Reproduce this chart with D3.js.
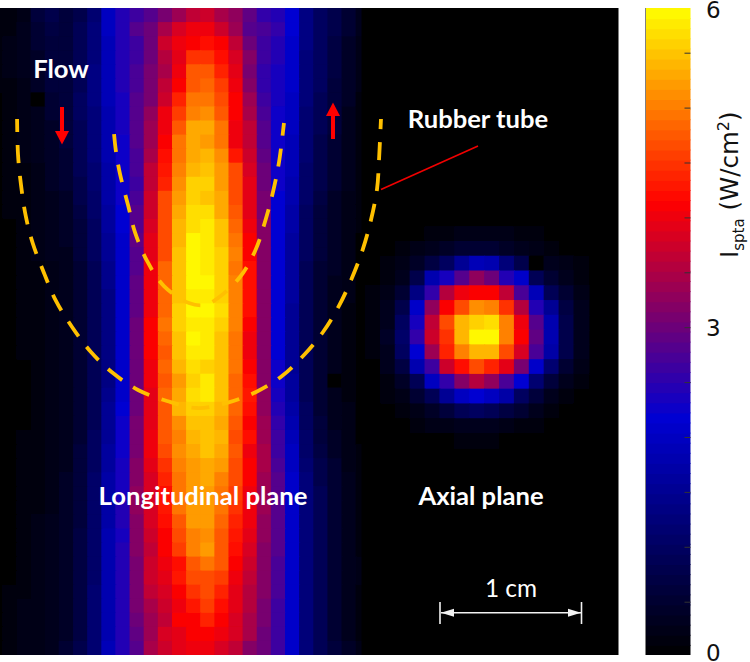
<!DOCTYPE html>
<html>
<head>
<meta charset="utf-8">
<script src="https://cdn.jsdelivr.net/npm/d3@7"></script>
<style>
html, body { margin: 0; padding: 0; background: #fff; }
svg { display: block; }
</style>
</head>
<body>
<div id="chart"></div>
<script>
// colormap of the scale bar, W/cm2
var stopValues = [0, 2.2, 4.2, 6];
var stopColors = ['#000000', '#0000d2', '#ff0000', '#ffff00'];
var barTicks = [0.5, 1, 1.5, 2, 2.5, 3, 3.5, 4, 4.5, 5, 5.5];
var barLabels = [0, 3, 6];

var longitudinal = [
[.12,.15,.25,.65,.75,.6,.8,1.2,2.0,2.45,2.67,2.9,3.1,3.4,3.7,3.8,3.55,3.3,2.98,2.6,2.5,2.2,1.4,1.0,.75,.5,.3],
[.12,.18,.3,.55,.7,.65,.85,1.25,2.05,2.45,2.85,3.0,3.5,3.85,4.1,4.1,3.8,3.4,2.9,2.75,2.55,2.2,1.35,1.0,.75,.5,.3],
[.1,.2,.3,.5,.65,.65,.85,1.3,1.95,2.45,2.65,3.0,3.8,4.05,4.2,4.3,4.15,3.7,3.0,2.65,2.5,2.15,1.35,1.0,.7,.45,.25],
[.1,.2,.3,.45,.6,.65,.9,1.3,1.95,2.5,2.7,3.05,3.6,4.0,4.5,4.55,4.27,3.85,3.2,2.7,2.45,2.15,1.3,.95,.7,.45,.25],
[.1,.2,.3,.45,.6,.65,.9,1.35,1.9,2.5,2.75,3.1,3.55,4.08,4.84,4.84,4.48,3.95,3.1,2.6,2.4,2.1,1.3,.95,.7,.4,.2],
[.1,.15,.25,.4,.6,.65,.9,1.35,1.9,2.45,2.8,3.1,3.7,4.2,4.84,4.9,4.62,4.05,3.2,2.55,2.4,2.1,1.25,.95,.65,.4,.2],
[.08,.15,.25,0,.55,.65,.95,1.4,1.9,2.4,2.85,3.15,3.8,4.48,5.05,5.05,4.69,4.2,3.45,2.65,2.35,2.05,1.25,.9,.65,.4,.15],
[.08,.15,.2,.35,.5,.65,.95,1.3,1.85,2.35,2.85,3.3,4.05,4.62,5.12,5.22,4.84,4.2,3.5,2.75,2.3,2.0,1.2,.85,.6,.35,.15],
[.08,.12,.2,.3,.45,.6,.9,1.3,1.8,2.35,2.9,3.4,4.1,4.84,5.35,5.35,5.0,4.1,3.7,2.85,2.3,2.0,1.2,.85,.6,.35,.15],
[.08,.12,.2,.3,.45,.6,.9,1.25,1.8,2.3,2.85,3.45,4.2,5.0,5.4,5.3,5.0,4.08,3.7,2.9,2.3,1.95,1.15,.8,.55,.3,.15],
[.06,.12,.2,.3,.4,.55,.85,1.25,1.8,2.3,2.8,3.55,4.27,5.05,5.4,5.5,5.2,4.35,3.75,2.95,2.25,1.95,1.15,.8,.55,.3,.12],
[.06,.1,.18,.25,.4,.5,.85,1.2,1.75,2.3,2.75,3.7,4.4,5.12,5.5,5.55,5.25,4.69,3.9,3.05,2.25,1.9,1.1,.75,.5,.3,.12],
[.06,.1,.15,.25,.4,.5,.8,1.15,1.75,2.25,2.7,3.7,4.48,5.2,5.7,5.65,5.3,4.69,3.95,3.05,2.25,1.85,1.1,.75,.5,.3,.12],
[.05,.1,.15,.25,.35,.45,.75,1.1,1.7,2.25,2.75,3.75,4.69,5.26,5.7,5.6,5.35,4.76,3.95,3.1,2.2,1.8,1.05,.7,.45,.25,.1],
[.05,.1,.15,.2,.35,.45,.7,1.05,1.65,2.2,2.85,3.8,4.76,5.35,5.8,5.8,5.4,4.84,4.0,3.15,2.2,1.75,1.0,.65,.45,.25,.1],
[.05,.08,.15,.2,.3,.4,.65,1.0,1.6,2.2,2.9,3.85,4.76,5.45,5.8,5.9,5.55,4.9,4.1,3.2,2.2,1.7,1.0,.65,.4,.22,.1],
[.05,.08,.12,.2,.3,.4,.6,.95,1.55,2.15,2.95,3.95,4.76,5.5,5.95,5.9,5.6,5.05,4.2,3.2,2.2,1.65,.95,.6,.4,.22,.08],
[.05,.08,.12,.2,.3,.35,.6,.95,1.5,2.15,2.9,4.0,4.69,5.55,5.95,5.9,5.68,5.08,4.2,3.2,2.2,1.65,.95,.6,.38,.2,.08],
[.04,.08,.12,.18,.28,.35,.55,.9,1.45,2.1,2.9,4.08,4.9,5.6,5.96,5.9,5.65,5.05,4.3,3.2,2.2,1.6,.9,.55,.38,.2,.08],
[.04,.08,.12,.18,.28,.35,.55,.9,1.45,2.1,2.95,4.1,4.9,5.55,5.96,6.0,5.68,5.08,4.3,3.25,2.2,1.6,.9,.55,.35,.2,.08],
[.04,.06,.12,.18,.25,.35,.55,.9,1.4,2.1,2.95,4.1,4.9,5.62,5.9,5.9,5.7,5.08,4.27,3.25,2.2,1.6,.9,.55,.35,.2,.06],
[.04,.06,.1,.18,.25,.35,.55,.88,1.4,2.1,2.95,4.12,4.91,5.65,5.96,6.0,5.75,5.12,4.27,3.2,2.2,1.55,.88,.55,.35,.18,.06],
[.04,.06,.1,.18,.25,.33,.52,.88,1.4,2.1,3.0,4.15,4.98,5.65,5.9,5.9,5.65,5.12,4.2,3.2,2.2,1.55,.88,.52,.33,.18,.05],
[.04,.06,.1,.15,.22,.33,.52,.88,1.38,2.1,3.0,4.2,4.91,5.54,5.93,5.9,5.6,5.05,4.1,3.2,2.2,1.55,.88,.52,.33,.15,.05],
[.04,.06,.1,.15,.22,.33,.5,.85,1.4,2.1,3.0,4.15,4.84,5.54,5.85,5.9,5.56,4.98,4.08,3.2,2.2,1.55,.85,.5,.3,.15,.05],
[.04,.06,.08,.15,.22,.3,.5,.85,1.4,2.1,3.0,4.12,4.91,5.45,5.75,5.65,5.54,4.98,4.16,3.2,2.25,1.55,.85,.5,.3,.15,.05],
[.03,.05,.08,.15,.2,.3,.5,.85,1.4,2.1,3.0,4.08,4.84,5.33,5.68,5.82,5.54,4.93,4.3,3.25,2.3,1.6,.85,.5,0,.12,.05],
[.03,.05,.08,.15,.2,.3,.5,.85,1.45,2.15,3.0,4.0,4.91,5.4,5.72,5.82,5.54,4.93,4.4,3.3,2.4,1.65,.9,.5,.3,.15,.05],
[.03,.05,.08,.15,.2,.33,.5,.85,1.5,2.2,3.05,3.95,4.8,5.45,5.68,5.68,5.45,4.91,4.27,3.35,2.5,1.7,.95,.55,.33,.2,.05],
[.03,.05,.08,.15,.22,.33,.55,.9,1.5,2.25,3.1,4.0,4.8,5.19,5.61,5.57,5.4,4.8,4.2,3.4,2.6,1.8,1.0,.6,.35,.2,.08],
[.03,.06,.1,.15,.22,.35,.55,.95,1.55,2.3,3.1,4.08,4.8,5.12,5.45,5.57,5.45,4.73,4.27,3.45,2.65,1.9,1.05,.65,.4,.22,.08],
[.03,.06,.1,.15,.25,.35,.6,1.0,1.6,2.3,3.15,4.08,4.69,5.19,5.4,5.54,5.35,4.84,4.08,3.5,2.7,2.0,1.1,.7,.45,.22,.1],
[.03,.06,.1,.15,.25,.35,.6,1.0,1.65,2.35,3.2,4.0,4.55,5.08,5.33,5.4,5.26,4.73,4.2,3.5,2.75,2.05,1.15,.75,.5,.25,.1],
[.03,.06,.1,.18,.25,.4,.6,1.05,1.7,2.4,3.25,3.9,4.48,5.05,5.33,5.4,5.12,4.69,4.16,3.45,2.85,2.1,1.25,.8,.5,.3,.1],
[.03,.06,.12,.18,.28,.4,.65,1.05,1.75,2.4,3.3,3.9,4.31,5.0,5.3,5.3,5.05,4.62,4.08,3.4,2.9,2.15,1.3,.85,.55,.35,.15],
[.03,.06,.12,.18,.28,.4,.65,1.1,1.75,2.45,3.3,3.85,4.34,4.98,5.26,5.33,4.98,4.58,4.08,3.4,2.9,2.15,1.3,.85,.55,.35,.15],
[.03,.08,.12,.2,.3,.42,.65,1.1,1.75,2.45,3.25,3.85,4.27,4.8,5.3,5.3,4.91,4.48,4.08,3.35,2.9,2.15,1.3,.85,.55,.35,.18],
[.03,.08,.15,.2,.3,.42,.7,1.1,1.8,2.4,3.2,3.8,4.2,4.69,5.12,5.22,4.84,4.34,4.0,3.3,2.85,2.15,1.25,.85,.55,.35,.18],
[.04,.08,.15,.2,.3,.45,.7,1.1,1.8,2.45,3.2,3.7,4.2,4.62,5.12,5.26,4.84,4.27,3.93,3.25,2.85,2.15,1.25,.85,.55,.35,.18],
[.04,.08,.15,.22,.32,.45,.7,1.1,1.8,2.45,3.15,3.77,4.08,4.27,4.84,4.98,4.8,4.2,3.77,3.25,2.8,2.1,1.25,.85,.5,.32,.2],
[.04,.08,.15,.22,.32,.45,.7,1.1,1.8,2.45,3.15,3.77,4.0,4.34,4.69,4.76,4.62,4.05,3.7,3.2,2.8,2.1,1.25,.85,.5,.32,.2],
[.05,.1,.18,.22,.35,.45,.7,1.15,1.85,2.45,3.15,3.7,3.9,4.2,4.55,4.69,4.48,3.95,3.65,3.2,2.75,2.1,1.25,.85,.5,.3,.18],
[.05,.1,.2,.22,.35,.45,.7,1.15,1.85,2.45,3.1,3.53,3.77,4.12,4.34,4.62,4.3,4.0,3.6,3.15,2.7,2.1,1.3,.9,.5,.3,.15],
[.05,.1,.2,.22,.35,.45,.7,1.15,1.85,2.45,3.05,3.45,3.73,4.16,4.2,4.48,4.2,3.85,3.53,3.1,2.7,2.1,1.3,.9,.55,.3,.15],
[.05,.1,.2,.25,.35,.45,.7,1.15,1.85,2.45,2.95,3.4,3.9,4.0,4.2,4.2,4.12,3.85,3.53,3.05,2.7,2.1,1.3,.9,.55,.35,.18],
[.05,.1,.2,.25,.35,.48,.75,1.15,1.9,2.45,2.9,3.5,3.77,4.0,4.08,4.08,3.9,3.7,3.25,3.0,2.65,2.1,1.3,.9,.6,.4,.2]
];

var axial = [
[0,0,0,0,.1,.15,.2,.25,.25,.2,.15,.1,.05,0,0],
[0,0,.1,.2,.3,.4,.5,.55,.55,.4,.35,.2,.15,.05,0],
[.05,.1,.2,.4,.7,1.0,1.5,1.9,1.8,1.3,.8,0,.3,.2,.1],
[.05,.15,.35,.8,1.8,2.35,2.9,3.3,3.05,2.45,2.1,.9,.55,.3,.15],
[.1,.2,.5,1.4,2.55,3.6,4.1,4.2,4.2,3.7,2.75,1.9,.9,.5,.2],
[.1,.3,.8,2.15,3.3,4.15,4.7,5.2,5.1,4.55,3.6,2.45,1.5,.7,.3],
[.1,.35,1.0,2.35,3.7,4.7,5.45,5.65,5.75,5.1,4.05,2.85,1.8,.8,.35],
[.1,.4,1.1,2.55,3.75,4.5,5.5,6.0,5.95,5.15,4.2,2.95,1.85,.8,.35],
[.1,.35,1.0,2.2,3.4,4.45,5.15,5.5,5.45,4.75,3.9,2.8,1.7,.75,.3],
[.05,.3,.7,1.85,2.7,3.75,4.3,4.7,4.45,4.0,3.1,2.15,1.15,.5,.2],
[.03,.15,.45,.9,2.0,2.6,3.25,3.65,3.35,2.75,2.2,1.2,.65,.3,.1],
[0,.1,.2,.55,.9,1.5,2.05,2.2,2.05,1.7,1.0,.6,.35,.15,.05],
[0,.03,.1,.25,.45,.6,.85,1.0,.9,.7,.5,.3,.15,.05,0],
[0,0,.03,.1,.2,.25,.3,.35,.3,.25,.15,.1,.03,0,0],
[0,0,0,0,.03,.05,.1,.1,.1,.05,.03,0,0,0,0]
];

// rubber tube outlines, in mm from the top left of the picture
var outerX = [1.21,1.28,1.49,1.84,2.34,3.12,3.97,5.11,6.45,8.01,9.79,11.84,13.97,16.1,18.16,20.0,21.56,22.91,24.04,24.96,25.74,26.31,26.74,26.88,27.02];
var outerY = [7.87,10.43,12.55,14.82,16.74,18.79,20.78,22.62,24.4,25.89,27.09,27.87,28.37,28.01,27.23,26.1,24.61,22.98,21.13,19.15,17.09,15.04,12.84,10.78,7.87];
var innerX = [8.09,8.23,8.51,9.08,9.57,10.43,11.63,13.4,14.54,15.46,17.02,18.09,18.79,19.36,19.79,20.14];
var innerY = [8.94,10.21,11.77,13.97,15.89,17.94,19.72,20.92,21.06,20.57,19.08,17.23,15.18,13.05,10.92,8.16];

var width = 750, height = 662;
var panelTop = 8, panelBottom = 655, panelRight = 618.5, splitX = 361.5;
var barLeft = 645.5, barRight = 690.5;

var svg = d3.select('#chart').append('svg')
    .attr('width', width)
    .attr('height', height)
    .style('background', '#fff');

var defs = svg.append('defs');
defs.append('clipPath').attr('id', 'leftClip')
    .append('rect').attr('x', 0).attr('y', panelTop)
    .attr('width', splitX).attr('height', panelBottom - panelTop);
defs.append('filter').attr('id', 'soft')
    .attr('x', '-5%').attr('y', '-5%').attr('width', '110%').attr('height', '110%')
    .append('feGaussianBlur').attr('stdDeviation', 0.6);

var color = d3.scaleLinear().domain(stopValues).range(stopColors);

function level(v) {
    // the picture only has 64 colour steps
    return color((Math.min(Math.floor(v / 6 * 64), 63) + 0.5) * 6 / 64);
}

svg.append('rect')
    .attr('x', 0).attr('y', panelTop)
    .attr('width', panelRight).attr('height', panelBottom - panelTop)
    .attr('fill', '#000');

// longitudinal plane
var longX = d3.scaleBand().domain(d3.range(longitudinal[0].length)).range([-11.73, 369.78]);
var longY = d3.scaleBand().domain(d3.range(longitudinal.length)).range([panelTop, panelBottom]);

var longRows = svg.append('g').attr('clip-path', 'url(#leftClip)')
    .append('g').attr('filter', 'url(#soft)')
    .selectAll('g')
    .data(longitudinal)
    .enter().append('g')
    .attr('transform', function (d, i) { return 'translate(0,' + longY(i) + ')'; });
longRows.selectAll('rect')
    .data(function (d) { return d; })
    .enter().append('rect')
    .attr('x', function (d, i) { return longX(i); })
    .attr('width', longX.bandwidth() + 1)
    .attr('height', longY.bandwidth() + 1)
    .attr('fill', function (d) { return level(d); });

// axial plane
var axX = d3.scaleBand().domain(d3.range(axial[0].length)).range([365, 588.35]);
var axY = d3.scaleBand().domain(d3.range(axial.length)).range([226.2, 447.75]);

var axRows = svg.append('g').attr('filter', 'url(#soft)')
    .selectAll('g')
    .data(axial)
    .enter().append('g')
    .attr('transform', function (d, i) { return 'translate(0,' + axY(i) + ')'; });
axRows.selectAll('rect')
    .data(function (d) { return d; })
    .enter().append('rect')
    .attr('x', function (d, i) { return axX(i); })
    .attr('width', axX.bandwidth() + 1)
    .attr('height', axY.bandwidth() + 1)
    .attr('fill', function (d) { return level(d); });

// tube outlines
var mmX = d3.scaleLinear().domain([0, 1]).range([0, 14.1]);
var mmY = d3.scaleLinear().domain([0, 1]).range([panelTop, panelTop + 14.1]);
var tubeLine = d3.line()
    .x(function (d) { return mmX(d[0]); })
    .y(function (d) { return mmY(d[1]); })
    .curve(d3.curveCatmullRom);

svg.append('path')
    .attr('d', tubeLine(d3.zip(outerX, outerY)))
    .attr('fill', 'none').attr('stroke', '#ffc000').attr('stroke-width', 3.8)
    .attr('stroke-dasharray', '18 13').attr('stroke-dashoffset', 5);
svg.append('path')
    .attr('d', tubeLine(d3.zip(innerX, innerY)))
    .attr('fill', 'none').attr('stroke', '#ffc000').attr('stroke-width', 3.8)
    .attr('stroke-dasharray', '18 13');

// flow arrows and pointer
svg.append('line').attr('x1', 62).attr('y1', 107).attr('x2', 62).attr('y2', 133)
    .attr('stroke', '#ff0000').attr('stroke-width', 4);
svg.append('path').attr('d', d3.line()([[55, 131], [69, 131], [62, 144.5]])).attr('fill', '#ff0000');
svg.append('line').attr('x1', 333).attr('y1', 139).attr('x2', 333).attr('y2', 114)
    .attr('stroke', '#ff0000').attr('stroke-width', 4);
svg.append('path').attr('d', d3.line()([[326, 116], [340, 116], [333, 102.5]])).attr('fill', '#ff0000');
svg.append('line').attr('x1', 381).attr('y1', 189.5).attr('x2', 478).attr('y2', 146)
    .attr('stroke', '#f00000').attr('stroke-width', 1.6);

// 1 cm scale
var scaleLine = svg.append('g').attr('stroke', '#f2f2f2').attr('fill', '#f2f2f2');
scaleLine.append('line').attr('x1', 441).attr('x2', 581).attr('y1', 612.7).attr('y2', 612.7).attr('stroke-width', 1.5);
scaleLine.append('line').attr('x1', 440).attr('x2', 440).attr('y1', 602).attr('y2', 624).attr('stroke-width', 1.6);
scaleLine.append('line').attr('x1', 581.5).attr('x2', 581.5).attr('y1', 602).attr('y2', 624).attr('stroke-width', 1.6);
scaleLine.append('path').attr('d', d3.line()([[441, 612.7], [454, 608.7], [454, 616.7]])).attr('stroke', 'none');
scaleLine.append('path').attr('d', d3.line()([[581, 612.7], [568, 608.7], [568, 616.7]])).attr('stroke', 'none');

// white annotations
var notes = [
    {t: 'Flow', x: 61, y: 78, s: 25.6, w: 'bold'},
    {t: 'Rubber tube', x: 478, y: 128, s: 25.6, w: 'bold'},
    {t: 'Longitudinal plane', x: 203, y: 505, s: 25.6, w: 'bold'},
    {t: 'Axial plane', x: 481, y: 505, s: 25.6, w: 'bold'},
    {t: '1 cm', x: 511, y: 597, s: 24.4, w: 'normal'}
];
svg.selectAll('.note')
    .data(notes)
    .enter().append('text')
    .attr('class', 'note')
    .attr('x', function (d) { return d.x; })
    .attr('y', function (d) { return d.y; })
    .attr('text-anchor', 'middle')
    .attr('font-family', 'Lato, sans-serif')
    .attr('font-size', function (d) { return d.s; })
    .attr('font-weight', function (d) { return d.w; })
    .attr('fill', '#fff')
    .text(function (d) { return d.t; });

// colour bar
var barY = d3.scaleBand().domain(d3.range(64).reverse()).range([panelTop, panelBottom]);
svg.append('g').selectAll('rect')
    .data(d3.range(64))
    .enter().append('rect')
    .attr('x', barLeft)
    .attr('y', function (d) { return barY(d); })
    .attr('width', barRight - barLeft)
    .attr('height', function (d) { return barY.bandwidth() + (d > 0 ? 1 : 0); })
    .attr('fill', function (d) { return color((d + 0.5) * 6 / 64); });
svg.append('line').attr('x1', barLeft).attr('x2', barLeft).attr('y1', panelTop).attr('y2', panelBottom)
    .attr('stroke', '#808080').attr('stroke-width', 1);

var tickScale = d3.scaleLinear().domain([0, 6]).range([656.6, -2.2]);
var tickAxis = d3.axisLeft(tickScale).tickValues(barTicks).tickSize(6).tickFormat('');
var tickG = svg.append('g').attr('transform', 'translate(' + barRight + ',0)').call(tickAxis);
tickG.select('.domain').remove();
tickG.selectAll('.tick line').attr('stroke', '#333').attr('stroke-width', 1);

var labelScale = d3.scaleLinear().domain([0, 3, 6]).range([653, 328, 10]);
var labelAxis = d3.axisRight(labelScale).tickValues(barLabels).tickSize(0).tickPadding(0).tickFormat(d3.format('d'));
var labelG = svg.append('g').attr('transform', 'translate(706,0)').call(labelAxis);
labelG.select('.domain').remove();
labelG.selectAll('text')
    .attr('font-family', '"DejaVu Sans", sans-serif')
    .attr('font-size', 23)
    .attr('fill', '#111');

// colour bar title
var title = svg.append('text')
    .attr('transform', 'translate(738,258) rotate(-90)')
    .attr('font-family', '"DejaVu Sans", sans-serif')
    .attr('font-size', 24.5)
    .attr('fill', '#111');
title.append('tspan').text('I');
title.append('tspan').attr('font-size', 15).attr('dy', 6).text('spta');
title.append('tspan').attr('dy', -6).text(' (W/cm');
title.append('tspan').attr('font-size', 16).attr('dy', -9).text('2');
title.append('tspan').attr('dy', 9).text(')');
</script>
</body>
</html>
